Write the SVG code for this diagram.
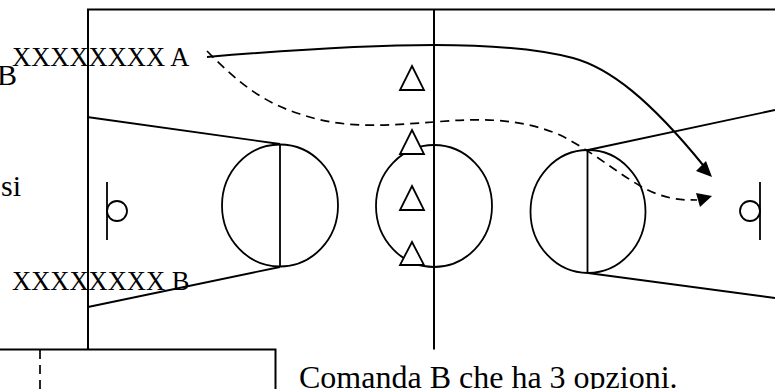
<svg xmlns="http://www.w3.org/2000/svg" width="775" height="389" viewBox="0 0 775 389">
<style>
.l{fill:none;stroke:#000;stroke-width:1.8}
.b{fill:none;stroke:#000;stroke-width:2}
.d{fill:none;stroke:#000;stroke-width:1.7;stroke-dasharray:9 6}
.t{fill:#000;font-family:"Liberation Serif","Times New Roman",serif;font-size:26.5px}
.t2{font-size:32px}
.t3{font-size:30px}
.tri{fill:#fff;stroke:#000;stroke-width:1.8}
</style>
<rect width="775" height="389" fill="#fff"/>
<g id="court">
<path class="b" d="M775,9.500H88V349.500M434,9V349.500M0,349.500H275.500V389"/>
<path class="l" d="M87,117L280,144M88,307L280,267M280,144V267M588,150L775,110M588,273L775,298M587.500,150V273"/>
<ellipse class="l" cx="280" cy="205.500" rx="58" ry="61"/>
<ellipse class="l" cx="434" cy="206" rx="58" ry="61"/>
<ellipse class="l" cx="588" cy="211.500" rx="57.500" ry="61.500"/>
</g>
<g id="hoop-left"><path class="l" d="M107,182V240"/><circle class="l" cx="117" cy="211" r="10"/></g>
<g id="hoop-right"><path class="l" d="M760,182V240"/><circle class="l" cx="750" cy="211" r="10"/></g>
<g id="cones">
<polygon class="tri" points="412,66 424,90 400,90"/>
<polygon class="tri" points="412,130 424,154 400,154"/>
<polygon class="tri" points="412,186 424,210 400,210"/>
<polygon class="tri" points="412,242 424,265 400,265"/>
</g>
<g id="connectors">
<path class="b" d="M207,57C290,50 380,45 434,45C490,45 535,48 573,58C610,68 650,100 703,165"/>
<polygon points="696,171 712,177 706,161" fill="#000"/>
<path class="d" d="M207,51C240,85 265,103 300,114C345,130 390,125 434,122C480,118 520,118 560,135C600,155 630,185 660,195C675,200 685,200 697,200"/>
<polygon points="696,193 712,196 700,207" fill="#000"/>
<path class="d" d="M40,350V389"/>
</g>
<g id="labels">
<text class="t t3" x="-3" y="85">B</text>
<text class="t" x="12" y="66">XXXXXXXX A</text>
<text class="t t3" x="1" y="195.500">si</text>
<text class="t" x="12" y="290">XXXXXXXX B</text>
<text class="t t2" x="299" y="388">Comanda B che ha 3 opzioni.</text>
</g>
</svg>
